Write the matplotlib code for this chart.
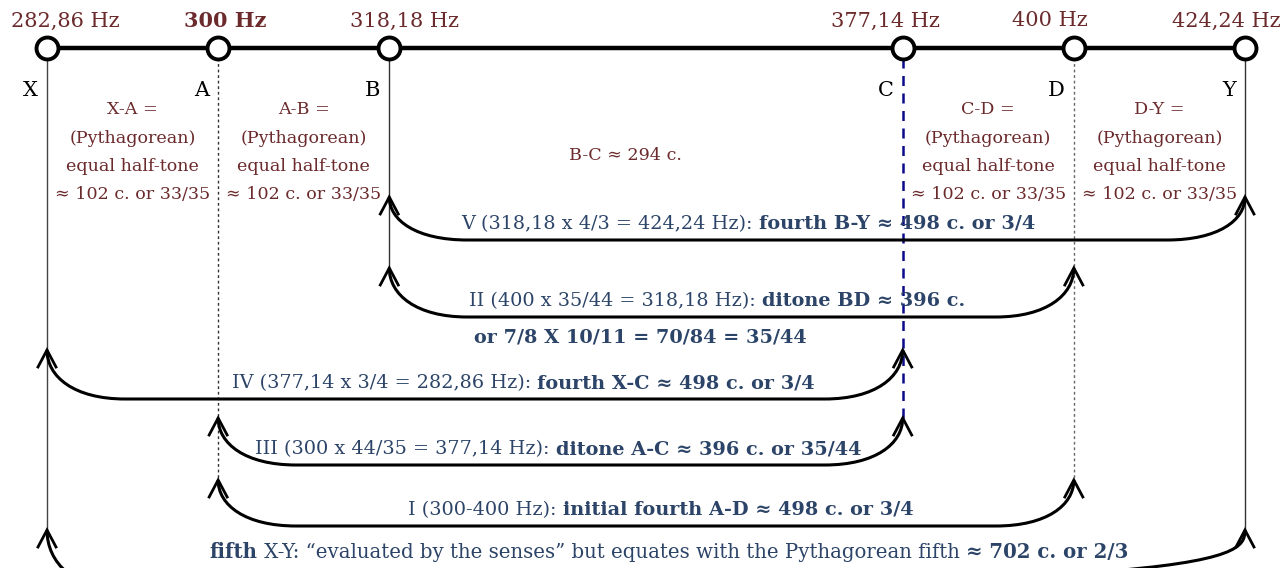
import matplotlib
matplotlib.use("Agg")
import matplotlib.pyplot as plt
from matplotlib.path import Path
from matplotlib.patches import PathPatch

# ---------------- data ----------------
notes = ['X', 'A', 'B', 'C', 'D', 'Y']
slots = [0, 1, 2, 5, 6, 7]          # position of each note on the scale line
freq_labels = ['282,86 Hz', '300 Hz', '318,18 Hz', '377,14 Hz', '400 Hz', '424,24 Hz']
freq_bold = [False, True, False, False, False, False]

seg_pairs = [('X', 'A'), ('A', 'B'), ('C', 'D'), ('D', 'Y')]
seg_lines = [
    ['X-A =', '(Pythagorean)', 'equal half-tone', '≈ 102 c. or 33/35'],
    ['A-B =', '(Pythagorean)', 'equal half-tone', '≈ 102 c. or 33/35'],
    ['C-D =', '(Pythagorean)', 'equal half-tone', '≈ 102 c. or 33/35'],
    ['D-Y =', '(Pythagorean)', 'equal half-tone', '≈ 102 c. or 33/35'],
]
bc_label = 'B-C ≈ 294 c.'

arc_ends = [('B', 'Y'), ('B', 'D'), ('X', 'C'), ('A', 'C'), ('A', 'D'), ('X', 'Y')]
arc_plain = ['V (318,18 x 4/3 = 424,24 Hz): ',
             'II (400 x 35/44 = 318,18 Hz): ',
             'IV (377,14 x 3/4 = 282,86 Hz): ',
             'III (300 x 44/35 = 377,14 Hz): ',
             'I (300-400 Hz): ',
             None]
arc_bold = ['fourth B-Y ≈ 498 c. or 3/4',
            'ditone BD ≈ 396 c.',
            'fourth X-C ≈ 498 c. or 3/4',
            'ditone A-C ≈ 396 c. or 35/44',
            'initial fourth A-D ≈ 498 c. or 3/4',
            None]
ii_second_line = 'or 7/8 X 10/11 = 70/84 = 35/44'
fifth_parts = [('fifth', 'bold'),
               (' X-Y: “evaluated by the senses” but equates with the Pythagorean fifth ', 'normal'),
               ('≈ 702 c. or 2/3', 'bold')]

# ---------------- layout ----------------
W, H = 1283, 568
PX0, PXU = 47.0, 171.14           # pixel of slot 0, pixels per slot
FONT = 'DejaVu Serif'
RED = '#6b2a2c'
NAVY = '#2c4468'
LINE_Y = 48
freq_label_px = [65, 225, 405, 885, 1050, 1226]
arc_tip = [197, 268, 350, 418, 480, 530]
arc_base = [240, 317, 399, 465, 526, 590]
arc_label_px = [748, 717, 523, 558, 661, 669]
vline_end = {'X': 530, 'A': 480, 'B': 268, 'C': 418, 'D': 480, 'Y': 530}
vline_style = {'X': dict(color='#444444', lw=1.0, ls='-'),
               'A': dict(color='#333333', lw=1.0, ls=(0, (2, 2))),
               'B': dict(color='#333333', lw=1.0, ls='-'),
               'C': dict(color='#0a0a8a', lw=1.8, ls=(0, (4, 3))),
               'D': dict(color='#666666', lw=1.0, ls=(0, (2, 2))),
               'Y': dict(color='#333333', lw=1.0, ls='-')}

fig = plt.figure(figsize=(W / 100, H / 100), dpi=100)
ax = fig.add_axes([0, 0, 1, 1])
ax.set_xlim(-PX0 / PXU, (W - PX0) / PXU)
ax.set_ylim(H, 0)
ax.axis('off')

pos = dict(zip(notes, slots))
unit_x = 1.0 / PXU   # one pixel in x data units

def px2x(p):
    return (p - PX0) / PXU

# vertical guide lines
for n in notes:
    st = vline_style[n]
    ax.plot([pos[n], pos[n]], [LINE_Y + 10, vline_end[n]], color=st['color'],
            lw=st['lw'], ls=st['ls'], zorder=1)

# main line and nodes
ax.plot([slots[0], slots[-1]], [LINE_Y, LINE_Y], color='black', lw=3.2, zorder=2)
ax.scatter(slots, [LINE_Y] * len(slots), s=250, facecolor='white', edgecolor='black',
           linewidth=2.8, zorder=3)

# frequency labels
for p, lab, b in zip(freq_label_px, freq_labels, freq_bold):
    ax.text(px2x(p), 21, lab, ha='center', va='center', fontsize=15, color=RED,
            fontweight='bold' if b else 'normal', family=FONT)

# note letters
for n in notes:
    ax.text(pos[n] - 9 * unit_x, 90, n, ha='right', va='center', fontsize=15,
            color='black', family=FONT)

# segment labels
for (a, b), lines in zip(seg_pairs, seg_lines):
    xc = (pos[a] + pos[b]) / 2
    for i, line in enumerate(lines):
        ax.text(xc, 110 + i * 28.3, line, ha='center', va='center', fontsize=12.6,
                color=RED, family=FONT)
ax.text(px2x(625), 155, bc_label, ha='center', va='center',
        fontsize=12.6, color=RED, family=FONT)

# arcs
def arc_path(xl, xr, yt, yb):
    w = 78 * unit_x
    h = yb - yt
    verts = [(xl, yt),
             (xl, yt + 0.55 * h), (xl + 0.35 * w, yb), (xl + w, yb),
             (xr - w, yb),
             (xr - 0.35 * w, yb), (xr, yt + 0.55 * h), (xr, yt)]
    codes = [Path.MOVETO, Path.CURVE4, Path.CURVE4, Path.CURVE4, Path.LINETO,
             Path.CURVE4, Path.CURVE4, Path.CURVE4]
    return Path(verts, codes)

def head(x, yt):
    hw, hl = 9 * unit_x, 17
    ax.plot([x - hw, x, x + hw], [yt + hl, yt, yt + hl], color='black', lw=2.0,
            solid_joinstyle='miter', zorder=4)

for (a, b), yt, yb in zip(arc_ends, arc_tip, arc_base):
    p = arc_path(pos[a], pos[b], yt, yb)
    ax.add_patch(PathPatch(p, facecolor='none', edgecolor='black', lw=2.2, zorder=4))
    head(pos[a], yt)
    head(pos[b], yt)

fig.canvas.draw()
renderer = fig.canvas.get_renderer()

def rich(xc, y, parts, size, color):
    objs = []
    widths = []
    for s, w in parts:
        t = ax.text(0, y, s, ha='left', va='center', fontsize=size, fontweight=w,
                    color=color, family=FONT)
        widths.append(t.get_window_extent(renderer=renderer).width)
        objs.append(t)
    total = sum(widths)
    x = xc - total / 2 * unit_x
    for t, wd in zip(objs, widths):
        t.set_x(x)
        x += wd * unit_x

for i in range(5):
    rich(px2x(arc_label_px[i]), arc_base[i] - 16,
         [(arc_plain[i], 'normal'), (arc_bold[i], 'bold')], 13.9, NAVY)

rich(px2x(640), 338, [(ii_second_line, 'bold')], 13.9, NAVY)
rich(px2x(arc_label_px[5]), 552, fifth_parts, 14.2, NAVY)

fig.savefig('out.png', dpi=100)
